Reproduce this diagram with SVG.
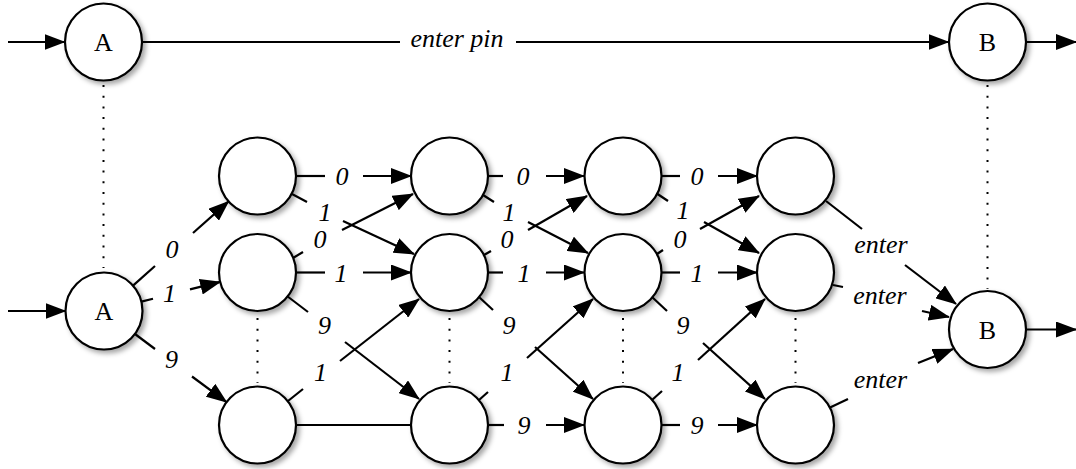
<svg xmlns="http://www.w3.org/2000/svg" width="1076" height="469" viewBox="0 0 1076 469">
<defs>
<marker id="ah" markerUnits="userSpaceOnUse" markerWidth="21" markerHeight="16" refX="20" refY="8" orient="auto">
<path d="M0,0 L21,8 L0,16 Z" fill="#000"/>
</marker>
<filter id="sh" x="-30%" y="-30%" width="170%" height="170%">
<feDropShadow dx="3" dy="3" stdDeviation="2.5" flood-color="#000" flood-opacity="0.35"/>
</filter>
<style>
.n{fill:#fff;stroke:#000;stroke-width:2.2;filter:url(#sh)}
.e{stroke:#000;stroke-width:2.2;fill:none}
.a{stroke:#000;stroke-width:2.2;fill:none;marker-end:url(#ah)}
.d{stroke:#000;stroke-width:2;fill:none;stroke-dasharray:2 8.7}
.t{font-family:"Liberation Serif","Times New Roman",serif;font-size:26px;font-style:italic;text-anchor:middle;fill:#000}
.s{font-family:"Liberation Serif","Times New Roman",serif;font-size:26px;text-anchor:middle;fill:#000}
</style>
</defs>
<rect width="1076" height="469" fill="#fff"/>

<g id="dotted">
<line class="d" x1="103.5" y1="85" x2="103.5" y2="268"/>
<line class="d" x1="987.5" y1="85" x2="987.5" y2="289"/>
<line class="d" x1="257.5" y1="318" x2="257.5" y2="383"/>
<line class="d" x1="449.5" y1="318" x2="449.5" y2="383"/>
<line class="d" x1="623" y1="318" x2="623" y2="383"/>
<line class="d" x1="795.5" y1="318" x2="795.5" y2="383"/>
</g>

<g id="connectors">
<line class="a" x1="8" y1="42" x2="64.5" y2="42"/>
<line class="a" x1="8" y1="311" x2="65.5" y2="311"/>
<line class="e" x1="142" y1="42" x2="400" y2="42"/>
<line class="a" x1="516" y1="42" x2="948.5" y2="42"/>
<line class="a" x1="1026" y1="42" x2="1076" y2="42"/>
<line class="a" x1="1026" y1="329.5" x2="1076" y2="329.5"/>

<line class="e" x1="133" y1="285.6" x2="155" y2="266"/>
<line class="a" x1="193" y1="233" x2="228.6" y2="201.4"/>
<line class="e" x1="141.3" y1="301.6" x2="153" y2="298.7"/>
<line class="a" x1="190" y1="289.4" x2="220.2" y2="281.9"/>
<line class="e" x1="135" y1="334" x2="155" y2="349"/>
<line class="a" x1="192" y1="376.5" x2="226.6" y2="402.1"/>

<line class="e" x1="296" y1="176" x2="325" y2="176"/>
<line class="a" x1="363" y1="176" x2="411" y2="176"/>
<line class="e" x1="296" y1="272.5" x2="325" y2="272.5"/>
<line class="a" x1="363" y1="272.5" x2="411" y2="272.5"/>
<line class="e" x1="296" y1="425" x2="411" y2="425"/>
<line class="e" x1="292" y1="194" x2="307" y2="202"/>
<line class="a" x1="343" y1="221" x2="414" y2="254"/>
<line class="e" x1="293" y1="258" x2="303" y2="252"/>
<line class="a" x1="342" y1="230" x2="413" y2="194"/>
<line class="e" x1="287" y1="296" x2="308" y2="312"/>
<line class="a" x1="345" y1="342" x2="419" y2="399"/>
<line class="e" x1="288" y1="401" x2="303" y2="389"/>
<line class="a" x1="340" y1="361" x2="419" y2="299"/>

<line class="e" x1="488" y1="176" x2="503" y2="176"/>
<line class="a" x1="546" y1="176" x2="584" y2="176"/>
<line class="e" x1="488" y1="272.5" x2="503" y2="272.5"/>
<line class="a" x1="546" y1="272.5" x2="584" y2="272.5"/>
<line class="e" x1="488" y1="425" x2="504" y2="425"/>
<line class="a" x1="546" y1="425" x2="584" y2="425"/>
<line class="e" x1="483" y1="195" x2="494" y2="202"/>
<line class="a" x1="528" y1="222" x2="588" y2="253"/>
<line class="e" x1="484" y1="255" x2="491" y2="251"/>
<line class="a" x1="528" y1="230" x2="587" y2="196"/>
<line class="e" x1="479" y1="297" x2="493" y2="310"/>
<line class="a" x1="535" y1="347" x2="593" y2="399"/>
<line class="e" x1="479" y1="400" x2="488" y2="392"/>
<line class="a" x1="527" y1="358" x2="593" y2="299"/>

<line class="e" x1="662" y1="176" x2="680" y2="176"/>
<line class="a" x1="718" y1="176" x2="757" y2="176"/>
<line class="e" x1="662" y1="272.5" x2="680" y2="272.5"/>
<line class="a" x1="718" y1="272.5" x2="757" y2="272.5"/>
<line class="e" x1="662" y1="425" x2="680" y2="425"/>
<line class="a" x1="718" y1="425" x2="757" y2="425"/>
<line class="e" x1="656" y1="193" x2="668" y2="201"/>
<line class="a" x1="704" y1="222" x2="759" y2="253"/>
<line class="e" x1="657" y1="254" x2="663" y2="250"/>
<line class="a" x1="700" y1="229" x2="759" y2="196"/>
<line class="e" x1="652" y1="297" x2="667" y2="311"/>
<line class="a" x1="703" y1="343" x2="765" y2="399"/>
<line class="e" x1="652" y1="400" x2="662" y2="391"/>
<line class="a" x1="698" y1="360" x2="765" y2="299"/>

<line class="e" x1="826" y1="201" x2="862" y2="229"/>
<line class="a" x1="905" y1="265" x2="956" y2="304"/>
<line class="e" x1="833" y1="285" x2="843" y2="287"/>
<line class="a" x1="922" y1="311" x2="949" y2="317"/>
<line class="e" x1="829" y1="408" x2="848" y2="399"/>
<line class="a" x1="918" y1="363" x2="953" y2="349"/>

<text class="t" x="457" y="47">enter pin</text>
<text class="t" x="172" y="257.5">0</text>
<text class="t" x="169.5" y="301.5">1</text>
<text class="t" x="171.5" y="368">9</text>

<text class="t" x="342" y="184.5">0</text>
<text class="t" x="325" y="220.5">1</text>
<text class="t" x="320" y="247.5">0</text>
<text class="t" x="341" y="281.5">1</text>
<text class="t" x="324.5" y="334">9</text>
<text class="t" x="320.5" y="381">1</text>

<text class="t" x="523" y="184.5">0</text>
<text class="t" x="509" y="220.5">1</text>
<text class="t" x="507" y="247.5">0</text>
<text class="t" x="524" y="281.5">1</text>
<text class="t" x="509" y="334">9</text>
<text class="t" x="507" y="381">1</text>
<text class="t" x="524" y="434">9</text>

<text class="t" x="697" y="184.5">0</text>
<text class="t" x="683" y="218.5">1</text>
<text class="t" x="680" y="247.5">0</text>
<text class="t" x="697" y="281.5">1</text>
<text class="t" x="683" y="334">9</text>
<text class="t" x="678" y="381">1</text>
<text class="t" x="697" y="434">9</text>

<text class="t" x="881" y="253">enter</text>
<text class="t" x="880" y="304">enter</text>
<text class="t" x="880.5" y="388">enter</text>
</g>

<g id="nodeA1"><circle class="n" cx="103.5" cy="42" r="38.5"/><text class="s" x="103.5" y="51">A</text></g>
<g id="nodeB1"><circle class="n" cx="987.5" cy="42" r="38.5"/><text class="s" x="987.5" y="51">B</text></g>
<g id="nodeA2"><circle class="n" cx="104" cy="311" r="38.5"/><text class="s" x="104" y="320">A</text></g>
<g id="nodeB2"><circle class="n" cx="987.5" cy="329.5" r="38.5"/><text class="s" x="987.5" y="338.5">B</text></g>

<g id="c1t"><circle class="n" cx="257.5" cy="176" r="38.5"/></g>
<g id="c1m"><circle class="n" cx="257.5" cy="272.5" r="38.5"/></g>
<g id="c1b"><circle class="n" cx="257.5" cy="425" r="38.5"/></g>
<g id="c2t"><circle class="n" cx="449.5" cy="176" r="38.5"/></g>
<g id="c2m"><circle class="n" cx="449.5" cy="272.5" r="38.5"/></g>
<g id="c2b"><circle class="n" cx="449.5" cy="425" r="38.5"/></g>
<g id="c3t"><circle class="n" cx="623" cy="176" r="38.5"/></g>
<g id="c3m"><circle class="n" cx="623" cy="272.5" r="38.5"/></g>
<g id="c3b"><circle class="n" cx="623" cy="425" r="38.5"/></g>
<g id="c4t"><circle class="n" cx="795.5" cy="176" r="38.5"/></g>
<g id="c4m"><circle class="n" cx="795.5" cy="272.5" r="38.5"/></g>
<g id="c4b"><circle class="n" cx="795.5" cy="425" r="38.5"/></g>
</svg>
